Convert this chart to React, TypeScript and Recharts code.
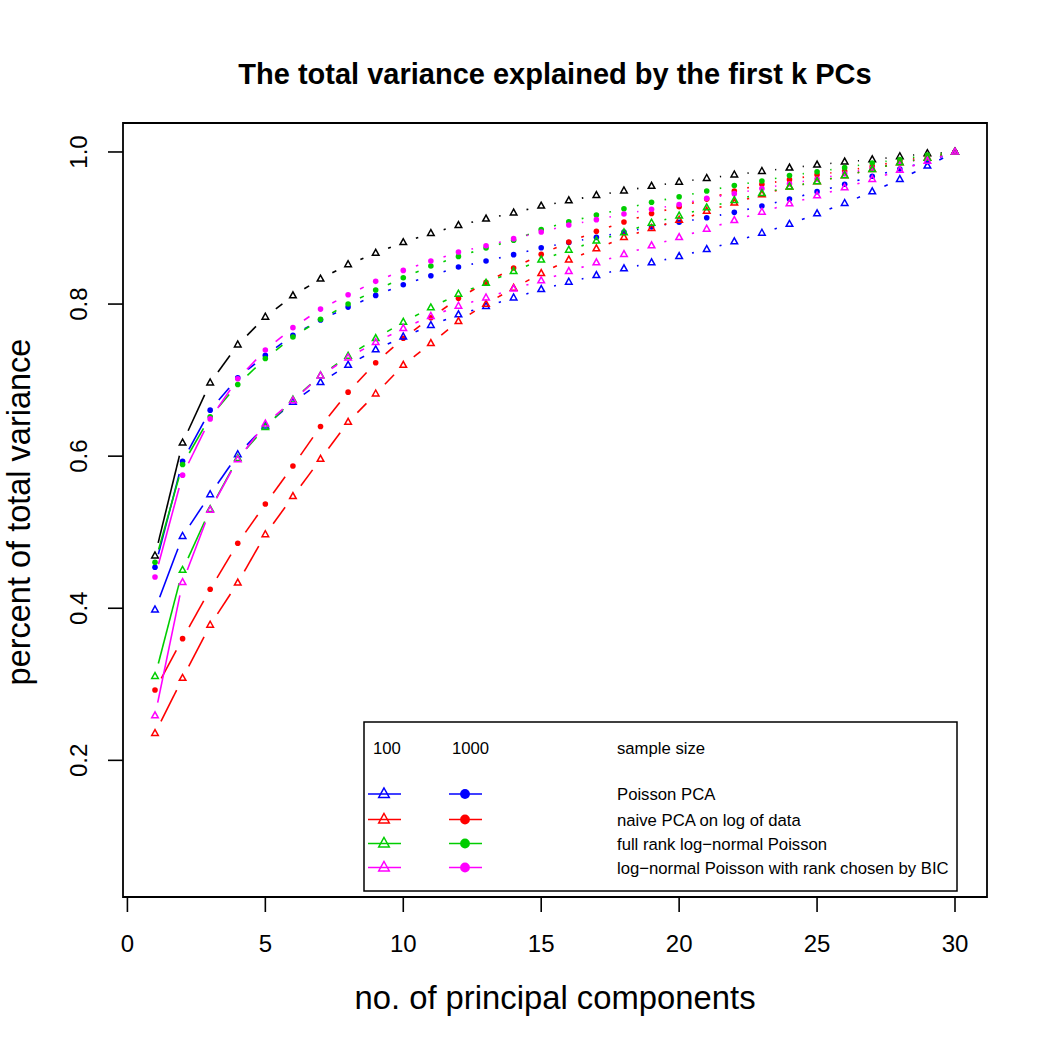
import { ComposedChart, Line, XAxis, YAxis, ReferenceArea } from "recharts";

// number of principal components kept
const components = [
  1, 2, 3, 4, 5, 6, 7, 8, 9, 10, 11, 12, 13, 14, 15,
  16, 17, 18, 19, 20, 21, 22, 23, 24, 25, 26, 27, 28, 29, 30,
];

// cumulative share of total variance, one array per curve
const blackTri = [
  0.469, 0.6175, 0.6965, 0.7465, 0.783, 0.811, 0.833, 0.852, 0.867, 0.881,
  0.893, 0.9035, 0.912, 0.92, 0.929, 0.936, 0.943, 0.949, 0.955, 0.9605,
  0.9654, 0.97, 0.9746, 0.979, 0.983, 0.987, 0.99, 0.994, 0.998, 1.0,
];
const poisson100 = [
  0.398, 0.4947, 0.5496, 0.6022, 0.64, 0.671, 0.697, 0.7197, 0.74, 0.757,
  0.772, 0.786, 0.797, 0.8083, 0.8193, 0.829, 0.8377, 0.8465, 0.8544, 0.8627,
  0.872, 0.882, 0.8934, 0.905, 0.9189, 0.9325, 0.9478, 0.964, 0.9816, 1.0,
];
const poisson1000 = [
  0.454, 0.5934, 0.6605, 0.703, 0.7325, 0.759, 0.779, 0.796, 0.8114, 0.8254,
  0.8373, 0.8487, 0.8566, 0.865, 0.874, 0.881, 0.8877, 0.8947, 0.9013, 0.9075,
  0.9136, 0.9206, 0.929, 0.938, 0.9478, 0.9575, 0.968, 0.9776, 0.9873, 1.0,
];
const naive100 = [
  0.2355, 0.308, 0.378, 0.4333, 0.497, 0.547, 0.596, 0.6447, 0.682, 0.7197,
  0.7483, 0.7772, 0.8, 0.821, 0.8403, 0.858, 0.8728, 0.8877, 0.8996, 0.9105,
  0.9224, 0.933, 0.944, 0.954, 0.961, 0.969, 0.977, 0.986, 0.992, 1.0,
];
const naive1000 = [
  0.2925, 0.36, 0.425, 0.4855, 0.537, 0.587, 0.639, 0.6842, 0.7228, 0.755,
  0.782, 0.8075, 0.8285, 0.8474, 0.8655, 0.8816, 0.8956, 0.908, 0.919, 0.928,
  0.938, 0.9487, 0.9575, 0.9636, 0.97, 0.975, 0.981, 0.988, 0.994, 1.0,
];
const fullRank100 = [
  0.3105, 0.45, 0.53, 0.597, 0.638, 0.674, 0.706, 0.7316, 0.7548, 0.7763,
  0.7952, 0.8132, 0.8276, 0.843, 0.858, 0.871, 0.883, 0.894, 0.9066, 0.916,
  0.9267, 0.9364, 0.9456, 0.954, 0.961, 0.969, 0.977, 0.986, 0.992, 1.0,
];
const fullRank1000 = [
  0.4605, 0.589, 0.6517, 0.6943, 0.7285, 0.7566, 0.78, 0.8, 0.8184, 0.8346,
  0.85, 0.8627, 0.8737, 0.884, 0.898, 0.9083, 0.917, 0.9254, 0.9338, 0.9412,
  0.9487, 0.956, 0.9618, 0.9689, 0.974, 0.9794, 0.9855, 0.99, 0.996, 1.0,
];
const bic100 = [
  0.2588, 0.434, 0.529, 0.5956, 0.6425, 0.673, 0.7057, 0.7294, 0.7496, 0.768,
  0.784, 0.7974, 0.8083, 0.82, 0.8307, 0.843, 0.8544, 0.8654, 0.8768, 0.8877,
  0.8987, 0.91, 0.921, 0.932, 0.9425, 0.953, 0.964, 0.976, 0.988, 1.0,
];
const bic1000 = [
  0.441, 0.575, 0.649, 0.7017, 0.7395, 0.769, 0.7934, 0.8123, 0.8299, 0.8443,
  0.8566, 0.8684, 0.8767, 0.886, 0.8947, 0.904, 0.911, 0.9184, 0.9246, 0.931,
  0.939, 0.9452, 0.952, 0.9583, 0.9645, 0.9715, 0.9785, 0.9855, 0.992, 1.0,
];

const xTicks = [0, 5, 10, 15, 20, 25, 30];
const yTicks = [0.2, 0.4, 0.6, 0.8, 1.0];

const legendSizes = ["100", "1000"];
const legendMethods = [
  "Poisson PCA",
  "naive PCA on log of data",
  "full rank log\u2212normal Poisson",
  "log\u2212normal Poisson with rank chosen by BIC",
];

const BLUE = "#0000FF";
const RED = "#FF0000";
const GREEN = "#00CD00";
const MAGENTA = "#FF00FF";
const methodColors = [BLUE, RED, GREEN, MAGENTA];

const FONT = '"Liberation Sans", Arial, Helvetica, sans-serif';
const W = 1050;
const H = 1050;
const X_DOMAIN: [number, number] = [-0.16, 31.16];
const Y_DOMAIN: [number, number] = [0.0203, 1.0381];
const GAP = 13.3; // blank space left around each point, like type = "b"
const LINE_W = 1.6;

const rows = components.map((k, i) => ({
  k,
  blackTri: blackTri[i],
  poisson100: poisson100[i],
  poisson1000: poisson1000[i],
  naive100: naive100[i],
  naive1000: naive1000[i],
  fullRank100: fullRank100[i],
  fullRank1000: fullRank1000[i],
  bic100: bic100[i],
  bic1000: bic1000[i],
}));

type Marker = "tri" | "dot";

// draw order: black first, large-sample dots, then small-sample triangles
const series: { key: string; color: string; marker: Marker }[] = [
  { key: "blackTri", color: "#000000", marker: "tri" },
  { key: "poisson1000", color: BLUE, marker: "dot" },
  { key: "naive1000", color: RED, marker: "dot" },
  { key: "fullRank1000", color: GREEN, marker: "dot" },
  { key: "bic1000", color: MAGENTA, marker: "dot" },
  { key: "poisson100", color: BLUE, marker: "tri" },
  { key: "naive100", color: RED, marker: "tri" },
  { key: "fullRank100", color: GREEN, marker: "tri" },
  { key: "bic100", color: MAGENTA, marker: "tri" },
];

function MarkerShape({ x, y, color, marker, scale = 1 }: { x: number; y: number; color: string; marker: Marker; scale?: number }) {
  if (marker === "dot") {
    return <circle cx={x} cy={y} r={2.8 * scale} fill={color} stroke="none" />;
  }
  const h = 3.3 * scale;
  const pts = `${x},${y - h * 1.15} ${x - h},${y + h * 0.65} ${x + h},${y + h * 0.65}`;
  return <polygon points={pts} fill="none" stroke={color} strokeWidth={1.5} strokeLinejoin="miter" />;
}

// point marker plus the gapped segment running to the next point
function gappedDot(color: string, marker: Marker) {
  return (props: any) => {
    const { cx, cy, index, points } = props;
    if (cx == null || cy == null) return <g key={`d-${index}`} />;
    let seg = null;
    const next = points ? points[index + 1] : null;
    if (next && next.x != null && next.y != null) {
      const dx = next.x - cx;
      const dy = next.y - cy;
      const len = Math.hypot(dx, dy);
      if (len > 2 * GAP) {
        const ux = dx / len;
        const uy = dy / len;
        seg = (
          <line
            x1={cx + ux * GAP}
            y1={cy + uy * GAP}
            x2={next.x - ux * GAP}
            y2={next.y - uy * GAP}
            stroke={color}
            strokeWidth={LINE_W}
          />
        );
      }
    }
    return (
      <g key={`d-${index}`}>
        {seg}
        <MarkerShape x={cx} y={cy} color={color} marker={marker} />
      </g>
    );
  };
}

function XTick(props: any) {
  const { x, payload } = props;
  return (
    <text x={x} y={952} textAnchor="middle" fontFamily={FONT} fontSize={24} fill="#000">
      {payload.value}
    </text>
  );
}

function YTick(props: any) {
  const { y, payload } = props;
  const bx = 87;
  return (
    <text
      x={bx}
      y={y}
      transform={`rotate(-90 ${bx} ${y})`}
      textAnchor="middle"
      fontFamily={FONT}
      fontSize={24}
      fill="#000"
    >
      {Number(payload.value).toFixed(1)}
    </text>
  );
}

function LegendBox() {
  const left = 364;
  const top = 722;
  const rowY = [794, 819.5, 843.5, 867.5];
  return (
    <g fontFamily={FONT} fontSize={16.7} fill="#000">
      <rect x={left} y={top} width={593} height={169} fill="#fff" stroke="#000" strokeWidth={1.5} />
      <text x={373} y={754}>{legendSizes[0]}</text>
      <text x={452} y={754}>{legendSizes[1]}</text>
      <text x={617} y={754}>sample size</text>
      {legendMethods.map((label, i) => {
        const y = rowY[i];
        const c = methodColors[i];
        return (
          <g key={label}>
            <line x1={368} x2={401} y1={y} y2={y} stroke={c} strokeWidth={LINE_W} />
            <MarkerShape x={384} y={y} color={c} marker="tri" scale={1.6} />
            <line x1={449} x2={482} y1={y} y2={y} stroke={c} strokeWidth={LINE_W} />
            <MarkerShape x={465} y={y} color={c} marker="dot" scale={1.75} />
            <text x={617} y={y + 6}>{label}</text>
          </g>
        );
      })}
    </g>
  );
}

export default function App() {
  return (
    <div style={{ position: "absolute", left: 0, top: 0, width: W, height: H, background: "#fff" }}>
      <ComposedChart
        width={W}
        height={H}
        data={rows}
        margin={{ top: 123, right: 63, bottom: 93, left: 0 }}
      >
        <XAxis
          dataKey="k"
          type="number"
          domain={X_DOMAIN}
          allowDataOverflow
          ticks={xTicks}
          interval={0}
          height={60}
          axisLine={false}
          tickSize={15}
          tickLine={{ stroke: "#000", strokeWidth: 1.6 }}
          tick={<XTick />}
        />
        <YAxis
          type="number"
          domain={Y_DOMAIN}
          allowDataOverflow
          ticks={yTicks}
          interval={0}
          width={123}
          axisLine={false}
          tickSize={15}
          tickLine={{ stroke: "#000", strokeWidth: 1.6 }}
          tick={<YTick />}
        />
        {series.map((s) => (
          <Line
            key={s.key}
            dataKey={s.key}
            type="linear"
            stroke="none"
            dot={gappedDot(s.color, s.marker)}
            activeDot={false}
            isAnimationActive={false}
          />
        ))}
        <ReferenceArea
          x1={X_DOMAIN[0]}
          x2={X_DOMAIN[1]}
          y1={Y_DOMAIN[0]}
          y2={Y_DOMAIN[1]}
          fill="none"
          stroke="#000"
          strokeWidth={1.8}
          ifOverflow="visible"
        />
      </ComposedChart>
      <svg
        width={W}
        height={H}
        style={{ position: "absolute", left: 0, top: 0, pointerEvents: "none" }}
      >
        <text x={555} y={84} textAnchor="middle" fontFamily={FONT} fontSize={29} fontWeight="bold" fill="#000">
          The total variance explained by the first k PCs
        </text>
        <text x={555} y={1009} textAnchor="middle" fontFamily={FONT} fontSize={32.8} fill="#000">
          no. of principal components
        </text>
        <text
          x={29.5}
          y={512}
          transform="rotate(-90 29.5 512)"
          textAnchor="middle"
          fontFamily={FONT}
          fontSize={32.5}
          fill="#000"
        >
          percent of total variance
        </text>
        <LegendBox />
      </svg>
    </div>
  );
}
